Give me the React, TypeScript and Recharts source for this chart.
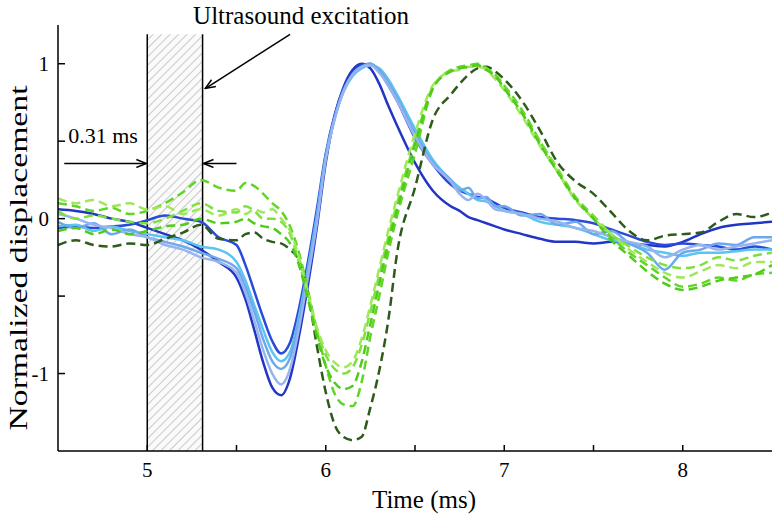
import { LineChart, Line, XAxis, YAxis, ReferenceArea, ReferenceLine, Label } from "recharts";

// time axis (ms) – finer sampling around the troughs/peaks
const time = [
  4.5, 4.6, 4.7, 4.8, 4.9, 5.0, 5.1, 5.2, 5.3, 5.4, 5.5,
  5.55, 5.6, 5.65, 5.7, 5.75, 5.8, 5.85, 5.9, 5.95, 6.0, 6.05, 6.1, 6.15, 6.2, 6.25, 6.3, 6.35, 6.4,
  6.5, 6.6, 6.7, 6.75, 6.8, 6.85, 6.9, 6.95, 7.0,
  7.1, 7.2, 7.3, 7.4, 7.5, 7.6, 7.7, 7.8, 7.9, 8.0, 8.1, 8.2, 8.3, 8.4, 8.5,
];

// solid blue traces
const blueDeep = [
  0.06, 0.05, 0.03, 0.0, -0.02, -0.06, -0.1, -0.14, -0.2, -0.28, -0.38,
  -0.52, -0.72, -0.93, -1.09, -1.14, -1.03, -0.76, -0.43, -0.06, 0.36, 0.66, 0.85, 0.96, 1.0, 0.97, 0.87, 0.73, 0.6,
  0.36, 0.18, 0.08, 0.05, 0.01, -0.01, -0.03, -0.05, -0.07,
  -0.1, -0.13, -0.15, -0.15, -0.16, -0.15, -0.16, -0.17, -0.18, -0.15, -0.1, -0.06, -0.04, -0.03, -0.02,
];
const blueShallow = [
  -0.06, -0.05, -0.06, -0.05, -0.04, -0.01, 0.02, 0.0, -0.02, -0.12, -0.17,
  -0.3, -0.47, -0.64, -0.79, -0.87, -0.8, -0.58, -0.28, 0.06, 0.42, 0.67, 0.84, 0.94, 0.99, 1.0, 0.95, 0.86, 0.76,
  0.52, 0.35, 0.22, 0.18, 0.16, 0.14, 0.13, 0.1, 0.07,
  0.04, 0.01, 0.0, -0.01, -0.03, -0.07, -0.11, -0.15, -0.17, -0.16, -0.17, -0.18, -0.2, -0.18, -0.2,
];
const blueCyan = [
  -0.05, -0.04, -0.08, -0.05, -0.08, -0.1, -0.12, -0.14, -0.18, -0.2, -0.28,
  -0.4, -0.56, -0.72, -0.86, -0.92, -0.86, -0.63, -0.32, 0.02, 0.4, 0.65, 0.82, 0.92, 0.97, 0.99, 0.97, 0.9, 0.8,
  0.58, 0.38, 0.25, 0.2, 0.16, 0.12, 0.11, 0.08, 0.05,
  0.03, -0.02, -0.04, -0.06, -0.1, -0.14, -0.16, -0.2, -0.22, -0.24, -0.22, -0.22, -0.21, -0.2, -0.2,
];
const blueSky = [
  -0.02, -0.06, -0.03, -0.1, -0.07, -0.12, -0.15, -0.18, -0.22, -0.26, -0.32,
  -0.44, -0.6, -0.78, -0.92, -0.97, -0.9, -0.66, -0.35, 0.0, 0.4, 0.65, 0.83, 0.93, 0.98, 1.0, 0.96, 0.88, 0.78,
  0.55, 0.36, 0.25, 0.18, 0.2, 0.13, 0.14, 0.08, 0.08,
  0.02, 0.03, -0.04, -0.02, -0.1, -0.08, -0.16, -0.22, -0.33, -0.22, -0.2, -0.16, -0.17, -0.12, -0.12,
];
const blueLavender = [
  0.03, 0.0, -0.04, -0.06, -0.1, -0.12, -0.17, -0.2, -0.25, -0.28, -0.35,
  -0.48, -0.66, -0.85, -1.0, -1.07, -0.97, -0.71, -0.38, -0.03, 0.38, 0.64, 0.82, 0.93, 0.98, 0.99, 0.94, 0.86, 0.76,
  0.53, 0.35, 0.24, 0.16, 0.12, 0.16, 0.12, 0.06, 0.05,
  0.03, 0.0, -0.02, -0.06, -0.08, -0.12, -0.15, -0.18, -0.25, -0.2, -0.17, -0.2, -0.18, -0.16, -0.14,
];

// dashed green traces
const greenDark = [
  -0.17, -0.14, -0.17, -0.18, -0.16, -0.17, -0.13, -0.09, -0.04, -0.13, -0.14,
  -0.1, -0.09, -0.13, -0.15, -0.16, -0.2, -0.27, -0.48, -0.82, -1.12, -1.33, -1.41, -1.43, -1.41, -1.22, -0.98, -0.66, -0.22,
  0.2, 0.64, 0.8, 0.87, 0.93, 0.97, 0.98, 0.95, 0.9,
  0.76, 0.57, 0.36, 0.24, 0.16, 0.04, -0.08, -0.14, -0.11, -0.1, -0.09, -0.02, 0.03, 0.01, 0.04,
];
const greenA = [
  0.1, 0.08, 0.05, 0.07, 0.03, 0.05, 0.1, 0.17, 0.25, 0.2, 0.18,
  0.23, 0.21, 0.16, 0.1, 0.05, -0.05, -0.22, -0.46, -0.72, -0.95, -1.13, -1.2, -1.21, -1.06, -0.76, -0.5, -0.22, 0.02,
  0.42, 0.84, 0.96, 0.98, 0.99, 1.0, 0.97, 0.93, 0.86,
  0.7, 0.5, 0.3, 0.12, 0.0, -0.12, -0.22, -0.3, -0.38, -0.44, -0.42, -0.38, -0.4, -0.36, -0.35,
];
const greenB = [
  0.05, 0.0, 0.02, 0.0, -0.02, -0.03, 0.0, 0.05, 0.1, 0.05, 0.04,
  0.08, 0.05, 0.0, 0.0, -0.02, -0.1, -0.28, -0.5, -0.72, -0.88, -0.97, -1.0, -0.96, -0.82, -0.6, -0.36, -0.12, 0.1,
  0.5, 0.85, 0.95, 0.97, 0.98, 0.99, 0.97, 0.92, 0.85,
  0.68, 0.5, 0.32, 0.14, 0.02, -0.1, -0.18, -0.25, -0.3, -0.32, -0.3, -0.25, -0.27, -0.24, -0.22,
];
const greenC = [
  0.13, 0.1, 0.12, 0.08, 0.1, 0.06, 0.08, 0.03, 0.06, 0.02, 0.06,
  0.03, 0.06, 0.04, 0.06, 0.0, -0.08, -0.25, -0.48, -0.7, -0.85, -0.93, -0.96, -0.92, -0.78, -0.56, -0.32, -0.08, 0.14,
  0.55, 0.86, 0.95, 0.96, 0.98, 0.98, 0.96, 0.9, 0.83,
  0.66, 0.47, 0.3, 0.12, 0.0, -0.1, -0.2, -0.28, -0.35, -0.38, -0.34, -0.3, -0.32, -0.28, -0.28,
];
const greenD = [
  -0.08, -0.06, -0.1, -0.07, -0.1, -0.08, -0.05, -0.04, 0.0, -0.03, -0.02,
  0.0, -0.03, -0.05, -0.06, -0.1, -0.16, -0.3, -0.52, -0.76, -0.95, -1.06, -1.1, -1.08, -0.93, -0.68, -0.42, -0.16, 0.06,
  0.48, 0.84, 0.95, 0.97, 0.98, 0.99, 0.96, 0.92, 0.84,
  0.68, 0.48, 0.3, 0.13, 0.0, -0.14, -0.24, -0.34, -0.42, -0.46, -0.44, -0.4, -0.38, -0.36, -0.3,
];

const xTicks = [5, 5.5, 6, 6.5, 7, 7.5, 8];
const yTicks = [-1, -0.5, 0, 0.5, 1];

const series = [
  { key: "b1", values: blueDeep, color: "#2236c4", dashed: false },
  { key: "b2", values: blueShallow, color: "#2a4bd8", dashed: false },
  { key: "b3", values: blueCyan, color: "#5cc4f0", dashed: false },
  { key: "b4", values: blueSky, color: "#6ea8ec", dashed: false },
  { key: "b5", values: blueLavender, color: "#98b4ef", dashed: false },
  { key: "g1", values: greenDark, color: "#2e5a1a", dashed: true },
  { key: "g2", values: greenA, color: "#5fd623", dashed: true },
  { key: "g3", values: greenB, color: "#7ee03e", dashed: true },
  { key: "g4", values: greenC, color: "#9fe85c", dashed: true },
  { key: "g5", values: greenD, color: "#4fcb1a", dashed: true },
];

const data = time.map((t, i) => {
  const row: Record<string, number> = { t };
  series.forEach((s) => (row[s.key] = s.values[i]));
  return row;
});

const FONT = '"Liberation Serif", "Times New Roman", serif';
const W = 776;
const H = 516;
const Y_AXIS_W = 58;
const X_AXIS_H = 65;
const TOP = 25;
const PLOT_BOTTOM = H - X_AXIS_H;

const YTick = (props: any) => {
  const { y, payload } = props;
  const v = payload.value;
  return (
    <g>
      <line x1={Y_AXIS_W} x2={Y_AXIS_W + 7} y1={y} y2={y} stroke="#000" strokeWidth={1.5} />
      {Number.isInteger(v) && (
        <text x={Y_AXIS_W - 9} y={y + 7} textAnchor="end" style={{ fontFamily: FONT, fontSize: 21 }} fill="#000">
          {v < 0 ? "-" + Math.abs(v) : v}
        </text>
      )}
    </g>
  );
};

const XTick = (props: any) => {
  const { x, payload } = props;
  const v = payload.value;
  return (
    <g>
      <line x1={x} x2={x} y1={PLOT_BOTTOM} y2={PLOT_BOTTOM - 6} stroke="#000" strokeWidth={1.5} />
      {Number.isInteger(v) && (
        <text x={x} y={PLOT_BOTTOM + 26} textAnchor="middle" style={{ fontFamily: FONT, fontSize: 21 }} fill="#000">
          {v}
        </text>
      )}
    </g>
  );
};

const YLabel = (props: any) => {
  const vb = props.viewBox;
  const cx = vb.x + 27;
  const cy = vb.y + vb.height / 2 + 20;
  return (
    <text
      x={cx}
      y={cy}
      transform={`rotate(-90, ${cx}, ${cy})`}
      textAnchor="middle"
      textLength={345}
      lengthAdjust="spacingAndGlyphs"
      style={{ fontFamily: FONT, fontSize: 26 }}
      fill="#000"
    >
      Normalized displacement
    </text>
  );
};

const arrow = (text?: { value: string; dx: number; dy: number; anchor: string; size: number }) => (p: any) => (
  <g>
    <line x1={p.x1} y1={p.y1} x2={p.x2} y2={p.y2} stroke="#000" strokeWidth={1.5} markerEnd="url(#arrowHead)" />
    {text && (
      <text x={p.x1 + text.dx} y={p.y1 + text.dy} textAnchor={text.anchor} style={{ fontFamily: FONT, fontSize: text.size }} fill="#000">
        {text.value}
      </text>
    )}
  </g>
);

export default function App() {
  return (
    <div style={{ position: "relative", width: W, height: H, background: "#fff", fontFamily: FONT }}>
      <style>{"body{margin:0}"}</style>
      <svg width={0} height={0} style={{ position: "absolute" }}>
        <defs>
          <pattern id="hatch" width={6} height={6} patternUnits="userSpaceOnUse" patternTransform="rotate(45)">
            <rect width={6} height={6} fill="#fafafa" />
            <line x1={0} y1={0} x2={0} y2={6} stroke="#c9c9c9" strokeWidth={2} />
          </pattern>
          <marker id="arrowHead" viewBox="0 0 12 10" refX={11} refY={5} markerWidth={12} markerHeight={10} markerUnits="userSpaceOnUse" orient="auto">
            <path d="M1,1 L11,5 L1,9" fill="none" stroke="#000" strokeWidth={1.5} />
          </marker>
        </defs>
      </svg>
      <LineChart width={W} height={H} data={data} margin={{ top: TOP, right: 4, bottom: 0, left: 0 }}>
        <XAxis
          type="number"
          dataKey="t"
          domain={[4.5, 8.5]}
          ticks={xTicks}
          allowDataOverflow
          height={X_AXIS_H}
          tickLine={false}
          tick={<XTick />}
          axisLine={{ stroke: "#000", strokeWidth: 1.5 }}
          label={{ value: "Time (ms)", position: "insideBottom", offset: 8, dx: 9, style: { fontFamily: FONT, fontSize: 25, fill: "#000" } }}
        />
        <YAxis
          type="number"
          domain={[-1.5, 1.25]}
          ticks={yTicks}
          allowDataOverflow
          width={Y_AXIS_W}
          tickLine={false}
          tick={<YTick />}
          axisLine={{ stroke: "#000", strokeWidth: 1.5 }}
        >
          <Label content={YLabel} />
        </YAxis>
        <ReferenceArea x1={5} x2={5.31} y1={-1.5} y2={1.19} fill="url(#hatch)" fillOpacity={1} stroke="none" />
        <ReferenceLine segment={[{ x: 5, y: -1.5 }, { x: 5, y: 1.19 }]} stroke="#000" strokeWidth={1.5} />
        <ReferenceLine segment={[{ x: 5.31, y: -1.5 }, { x: 5.31, y: 1.19 }]} stroke="#000" strokeWidth={1.5} />
        {series.map((s) => (
          <Line
            key={s.key}
            dataKey={s.key}
            type="monotone"
            stroke={s.color}
            strokeWidth={2.5}
            strokeDasharray={s.dashed ? "9 5" : undefined}
            dot={false}
            activeDot={false}
            isAnimationActive={false}
          />
        ))}
        <ReferenceLine
          segment={[{ x: 5.8, y: 1.19 }, { x: 5.325, y: 0.84 }]}
          shape={arrow({ value: "Ultrasound excitation", dx: 11, dy: -10, anchor: "middle", size: 25 })}
        />
        <ReferenceLine
          segment={[{ x: 4.535, y: 0.356 }, { x: 4.995, y: 0.356 }]}
          shape={arrow({ value: "0.31 ms", dx: 4, dy: -20, anchor: "start", size: 22 })}
        />
        <ReferenceLine segment={[{ x: 5.5, y: 0.356 }, { x: 5.315, y: 0.356 }]} shape={arrow()} />
      </LineChart>
    </div>
  );
}
